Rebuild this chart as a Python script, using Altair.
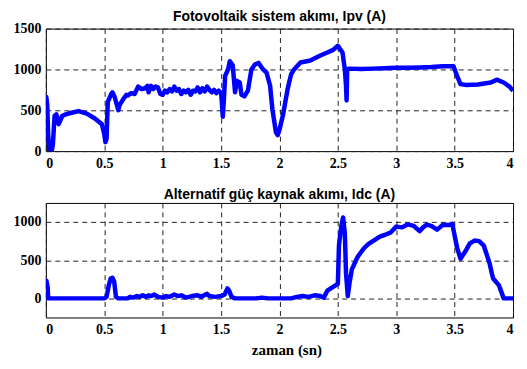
import altair as alt
import pandas as pd

# Top panel: photovoltaic current Ipv (A)
t_pv = [0.0, 0.005, 0.012, 0.02, 0.03, 0.04, 0.05, 0.06, 0.075, 0.09, 0.11, 0.14, 0.17,
        0.22, 0.28, 0.35, 0.42, 0.48, 0.50, 0.51, 0.52, 0.53, 0.56, 0.57, 0.59, 0.62,
        0.63, 0.66, 0.69, 0.70, 0.73, 0.76, 0.79, 0.82, 0.85, 0.87, 0.88, 0.90, 0.92,
        0.94, 0.96, 0.98, 1.00, 1.02, 1.04, 1.06, 1.08, 1.10, 1.12, 1.14, 1.16, 1.18,
        1.20, 1.22, 1.24, 1.26, 1.28, 1.30, 1.32, 1.34, 1.36, 1.38, 1.40, 1.42, 1.44,
        1.46, 1.48, 1.50, 1.505, 1.515, 1.525, 1.535, 1.56, 1.575, 1.60, 1.62, 1.635,
        1.66, 1.675, 1.70, 1.73, 1.76, 1.79, 1.82, 1.86, 1.89, 1.92, 1.94, 1.97, 1.985,
        2.00, 2.03, 2.07, 2.10, 2.125, 2.18, 2.265, 2.35, 2.41, 2.46, 2.50, 2.54, 2.56,
        2.57, 2.575, 2.58, 2.6, 2.7, 2.8, 2.9, 3.0, 3.1, 3.2, 3.3, 3.4, 3.49, 3.52,
        3.55, 3.6, 3.7, 3.81, 3.86, 3.92, 3.97, 4.0]
i_pv = [680, 650, 560, 200, 0, 100, 0, 80, 430, 450, 330, 430, 450,
        470, 490, 460, 400, 330, 210, 110, 150, 600, 700, 720, 660, 500,
        560, 630, 690, 680, 710, 700, 790, 760, 770, 800, 720, 800, 760,
        790, 780, 700, 690, 740, 720, 760, 730, 790, 740, 760, 700, 740,
        720, 750, 690, 740, 730, 780, 720, 770, 730, 790, 750, 720, 750,
        710, 740, 710, 640, 420, 650, 920, 1000, 1100, 1050, 720, 860,
        840, 690, 670, 740, 1000, 1060, 1080, 1000, 960, 800, 510, 230, 195,
        260, 440, 760, 940, 1000, 1085, 1110, 1170, 1207, 1240, 1290, 1207, 1000,
        800, 620, 1000, 1010, 1005, 1010, 1015, 1020, 1020, 1025, 1030, 1040, 1040, 925,
        820, 810, 815, 840, 875, 840, 790, 740]

# Bottom panel: alternative power source current Idc (A)
t_dc = [0.0, 0.005, 0.015, 0.02, 0.5, 0.52, 0.54, 0.555, 0.57, 0.585, 0.6, 0.62, 0.7,
        0.72, 0.75, 0.78, 0.8, 0.83, 0.86, 0.88, 0.9, 0.93, 0.96, 1.0, 1.03, 1.06, 1.1,
        1.13, 1.16, 1.2, 1.25, 1.3, 1.33, 1.38, 1.4, 1.45, 1.5, 1.53, 1.555, 1.57, 1.59,
        1.62, 1.8, 1.85, 1.9, 2.1, 2.15, 2.2, 2.25, 2.3, 2.35, 2.38, 2.41, 2.45, 2.48,
        2.5, 2.51, 2.53, 2.545, 2.56, 2.57, 2.585, 2.6, 2.62, 2.67, 2.72, 2.76, 2.81,
        2.86, 2.9, 2.95, 3.0, 3.05, 3.1, 3.15, 3.2, 3.23, 3.26, 3.3, 3.35, 3.4, 3.45,
        3.48, 3.52, 3.55, 3.59, 3.63, 3.67, 3.71, 3.75, 3.8, 3.82, 3.83, 3.88, 3.92, 4.0]
i_dc = [220, 230, 150, 0, 0, 20, 180, 260, 270, 220, 20, 0, 0,
        20, 10, 30, 20, 40, 20, 40, 30, 50, 20, 10, 30, 20, 50,
        30, 40, 10, 30, 40, 20, 60, 30, 20, 30, 50, 130, 100, 20,
        0, 0, 10, 0, 0, 20, 30, 20, 40, 30, 10, 100, 140, 170,
        190, 700, 950, 1060, 850, 330, 30, 200, 380, 545, 650, 710, 760,
        810, 830, 860, 940, 930, 970, 950, 880, 930, 965, 950, 900, 965, 960,
        975, 670, 520, 610, 720, 757, 750, 690, 455, 320, 260, 170, 0, 0]

x_ticks = [0, 0.5, 1, 1.5, 2, 2.5, 3, 3.5, 4]

df_pv = pd.DataFrame({"t": t_pv, "v": i_pv})
df_dc = pd.DataFrame({"t": t_dc, "v": i_dc})

SANS = "Liberation Sans, Arial, Helvetica, sans-serif"
SERIF = "Liberation Serif, Times New Roman, Times, serif"
W = 469


def axis(values, fmt, title=None):
    kw = dict(values=values, format=fmt, grid=True, gridDash=[5, 4], gridColor="#222",
              gridWidth=1, ticks=False, domain=False, labelFont=SERIF,
              labelFontWeight="bold", labelFontSize=14, labelColor="black",
              labelPadding=5)
    if title is not None:
        kw.update(title=title, titleFont=SERIF, titleFontWeight="bold",
                  titleFontSize=15, titleColor="black", titlePadding=6, titleX=W / 2 + 7)
    else:
        kw.update(title=None)
    return alt.Axis(**kw)


def panel(df, title, ydom, yvals, height, offset, xtitle=None):
    return alt.Chart(df, title=alt.Title(title, font=SANS, fontSize=14, fontWeight="bold",
                                         color="black", offset=offset, frame="group")).mark_line(
        color="#0000ff", strokeWidth=4.5, strokeJoin="round", clip=True
    ).encode(
        x=alt.X("t:Q", scale=alt.Scale(domain=[0, 4], nice=False, zero=False),
                axis=axis(x_ticks, "~g", xtitle)),
        y=alt.Y("v:Q", scale=alt.Scale(domain=ydom, nice=False, zero=False),
                axis=axis(yvals, "d")),
    ).properties(width=W, height=height)


top = panel(df_pv, "Fotovoltaik sistem akımı, Ipv (A)", [0, 1500], [0, 500, 1000, 1500], 123, -2)
bottom = panel(df_dc, "Alternatif güç kaynak akımı, Idc (A)", [-250, 1250], [0, 500, 1000], 115, 1,
               xtitle="zaman (sn)")

chart = alt.vconcat(top, bottom, spacing=16).properties(
    padding={"left": 4, "top": 0, "right": 5, "bottom": 0},
    background="white",
).configure_view(stroke="black", strokeWidth=1)

chart.save("out.html", embed_options={"renderer": "svg", "actions": False})
